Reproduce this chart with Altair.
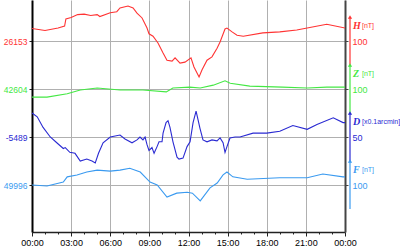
import altair as alt
import pandas as pd

# ---- data (deviations from base values; H, Z, F in nT, D in 0.1 arcmin) ----
H_hours = [0, 1, 2, 2.5, 2.6, 3, 3.5, 4, 4.5, 5, 5.2, 6, 6.5,
           6.75, 7.36, 7.75, 8.05, 8.44, 8.82, 8.97, 9.28, 9.66, 10.05, 10.35, 10.74,
           10.97, 11.35, 11.73, 12.19, 12.42, 12.81, 13.04, 13.42, 13.8, 14.19, 14.42,
           14.8, 14.95, 15.34, 15.72, 16.2, 17.7, 19.0, 20.3, 21.1, 22.6, 24]
H_dev = [26, 22, 27, 31, 46, 49, 55, 56, 53, 55, 51, 59, 61,
         69, 73, 69, 58, 48, 27, 15, 10, -4, -25, -40, -42,
         -35, -46, -44, -35, -54, -75, -60, -40, -33, -15, -2,
         25, 27, 19, 12, 10, 17, 19, 23, 27, 35, 27]

Z_hours = [0, 1.15, 2.7, 3.7, 5, 6.75, 8.5, 10.3, 10.8, 12.1, 12.9, 13.9, 14.8, 15.2,
           16.7, 19.2, 21.1, 22.6, 24]
Z_dev = [-17, -17, -10, -2, 2, -2, -2, -6, 2, 4, 2, 8, 17, 12, 6, 4, 2, 4, 4]

D_hours = [0, 0.4, 0.85, 1.4, 1.9, 2.4, 2.55, 2.9, 3.3, 3.7, 4.2, 4.6, 4.85, 5.1, 5.45,
           6, 6.75, 7.13, 7.67, 8.05, 8.28, 8.51, 8.67, 8.82, 8.97, 9.2, 9.36, 9.59,
           9.74, 9.97, 10.05, 10.28, 10.43, 10.58, 10.81, 11.12, 11.27, 11.58, 11.89,
           12.12, 12.35, 12.58, 12.73, 12.88, 13.11, 13.42, 13.8, 14.19, 14.42, 14.65,
           14.8, 14.95, 15.18, 15.57, 15.95, 16.95, 18.0, 19.0, 20.0, 21.1, 21.85,
           23.1, 23.85, 24]
D_dev = [25, 21, 10, 0, -6, -12, -11, -16, -17, -25, -23, -25, -27, -17, -6,
         0, 2, -2, -6, -3, 0, -3, 0, -8, -14, -11, -17, -10,
         -5, -5, 4, 15, 17, 10, -5, -21, -23, -22, -10,
         -5, 15, 27, 18, 9, -3, -5, -3, -4, -1, -6,
         -16, -10, -1, 0, 0, 4, 4, 6, 12, 8, 13,
         20, 15, 15]

F_hours = [0, 1.15, 2.4, 2.7, 3.45, 4.2, 5, 6, 6.75, 7.5, 8.3, 9.05, 9.6, 10.35, 11.1,
           11.9, 12.3, 12.9, 13.65, 14.2, 14.65, 14.95, 15.4, 16.5, 19, 21.1, 22.3,
           23.85, 24]
F_dev = [0, -2, 6, 17, 21, 27, 31, 29, 31, 35, 27, 6, 0, -25, -17,
         -15, -17, -33, -6, 4, 21, 27, 17, 12, 15, 15, 23, 17, 17]

series = ["H", "Z", "D", "F"]
base_values = ["26153", "42604", "-5489", "49996"]
scale_labels = ["100", "100", "50", "100"]
units = ["[nT]", "[nT]", "[x0.1arcmin]", "[nT]"]

# ---- layout / style ----
ROW = {"H": 191, "Z": 143, "D": 95, "F": 47}      # band centre, plot units
GAIN = {"H": 0.48, "Z": 0.48, "D": 0.96, "F": 0.48}
COLORS = {"H": "#ff3333", "Z": "#44e844", "D": "#2a2ad2", "F": "#3a9af0"}
HALF = 24

rows = []
for s, hs, vs in [("H", H_hours, H_dev), ("Z", Z_hours, Z_dev),
                  ("D", D_hours, D_dev), ("F", F_hours, F_dev)]:
    for h, v in zip(hs, vs):
        rows.append({"hour": h, "series": s, "y": ROW[s] + v * GAIN[s]})
df = pd.DataFrame(rows)

bands = pd.DataFrame({
    "series": series,
    "mid": [ROW[s] for s in series],
    "lo": [ROW[s] - HALF for s in series],
    "hi": [ROW[s] + HALF for s in series],
    "title_y": [ROW[s] + 15 for s in series],
    "unit": units,
})

color = alt.Color("series:N", scale=alt.Scale(domain=series, range=[COLORS[s] for s in series]),
                  legend=None)
yscale = alt.Scale(domain=[0, 232], nice=False, zero=False)
xscale = alt.Scale(domain=[0, 24], nice=False, zero=False)

tick_vals = [ROW[s] for s in series]
left_expr = " : ".join([f"datum.value == {ROW[s]} ? '{b}'" for s, b in zip(series, base_values)]) + " : ''"
right_expr = " : ".join([f"datum.value == {ROW[s]} ? '{b}'" for s, b in zip(series, scale_labels)]) + " : ''"
label_color = {"condition": [{"test": f"datum.value == {ROW[s]}", "value": COLORS[s]} for s in series[:3]],
               "value": COLORS["F"]}

x_enc = alt.X("hour:Q", scale=xscale, axis=alt.Axis(
    values=list(range(25)), title=None,
    labelExpr="datum.value % 3 == 0 ? (datum.value == 24 ? '00' : (datum.value < 10 ? '0' : '') + datum.value) + ':00' : ''",
    labelOverlap=False, labelFlush=False,
    tickSize={"condition": {"test": "datum.value % 3 == 0", "value": 4}, "value": 2},
    gridOpacity={"condition": {"test": "datum.value % 3 == 0", "value": 1}, "value": 0},
    grid=True, gridColor="#b0b0b0", gridWidth=1,
    domainColor="#222", domainWidth=1.5, tickColor="#222",
    labelFontSize=9, labelColor="black", labelFont="Liberation Sans", labelPadding=2))

lines = alt.Chart(df).mark_line(strokeWidth=1.1, clip=True).encode(
    x=x_enc,
    y=alt.Y("y:Q", scale=yscale, axis=alt.Axis(
        values=tick_vals, labelExpr=left_expr, labelColor=label_color, title=None,
        grid=True, gridColor="#b0b0b0", gridWidth=1,
        domainColor="black", domainWidth=2, tickColor="#222", tickSize=3,
        labelFontSize=8.5, labelFont="Liberation Sans", labelPadding=2)),
    color=color,
    detail="series:N",
)

arrows = alt.Chart(bands).mark_rule(strokeWidth=1.2).encode(
    x=alt.value(318),
    y=alt.Y("lo:Q", scale=yscale, axis=alt.Axis(
        orient="right", values=tick_vals, labelExpr=right_expr, labelColor=label_color,
        title=None, grid=False, domainColor="#444", domainWidth=2, tickColor="#444",
        tickSize=3, labelFontSize=9, labelFont="Liberation Sans", labelPadding=4)),
    y2="hi:Q",
    color=color,
)

heads = alt.Chart(bands).mark_point(shape="triangle-up", filled=True, size=18, opacity=1).encode(
    x=alt.value(318),
    y=alt.Y("hi:Q", scale=yscale, axis=None),
    color=color,
)

letters = alt.Chart(bands).mark_text(align="left", baseline="middle", font="Liberation Serif",
                                     fontStyle="italic", fontWeight="bold", fontSize=10).encode(
    x=alt.value(321),
    y=alt.Y("title_y:Q", scale=yscale, axis=None),
    text="series:N",
    color=color,
)

unit_text = alt.Chart(bands).mark_text(align="left", baseline="middle", font="Liberation Sans",
                                       fontSize=7).encode(
    x=alt.value(330),
    y=alt.Y("title_y:Q", scale=yscale, axis=None),
    text="unit:N",
    color=color,
)

chart = alt.layer(lines, arrows, heads, letters, unit_text).resolve_axis(y="independent").properties(
    width=313, height=232,
    padding={"left": 32, "top": 0, "right": 55, "bottom": 18},
    autosize="none",
    background="white",
).configure_view(stroke=None)

chart.save("out.html", embed_options={"renderer": "svg", "actions": False})
